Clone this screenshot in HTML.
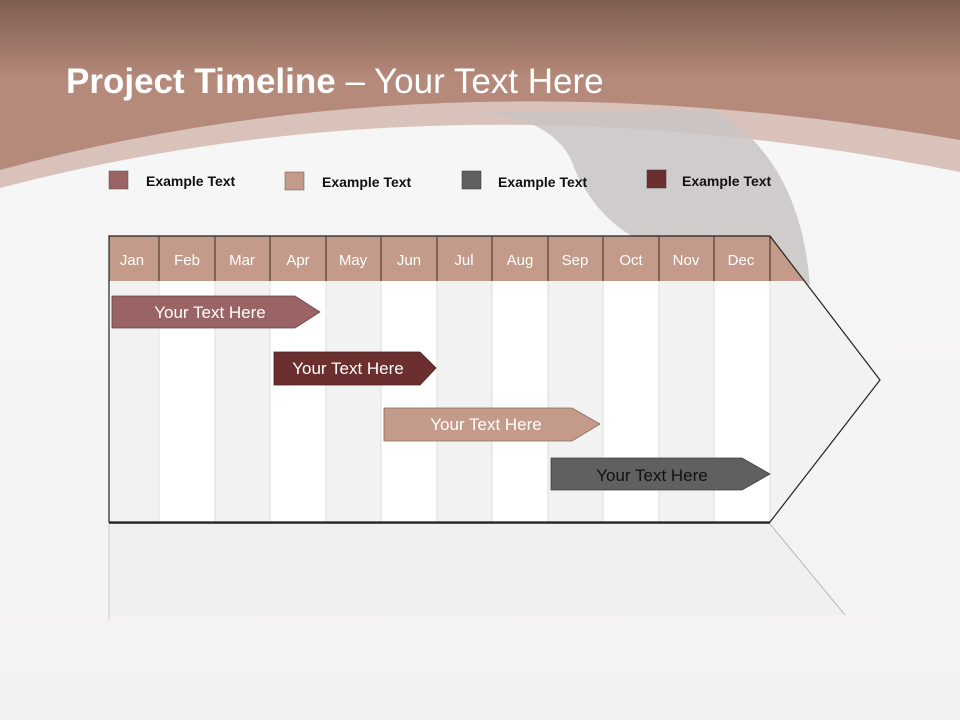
<!DOCTYPE html>
<html><head><meta charset="utf-8"><style>
body{margin:0;width:960px;height:720px;overflow:hidden;font-family:"Liberation Sans",sans-serif}
</style></head><body>
<svg width="960" height="720" viewBox="0 0 960 720" xmlns="http://www.w3.org/2000/svg">
<defs>
<linearGradient id="bg" x1="0" y1="0" x2="0" y2="1">
<stop offset="0" stop-color="#7e5e51"/><stop offset="0.28" stop-color="#b18676"/><stop offset="0.3" stop-color="#b58a7b"/>
</linearGradient>
<linearGradient id="wh" x1="0" y1="0" x2="0" y2="1">
<stop offset="0" stop-color="#f7f6f6"/><stop offset="1" stop-color="#f3f2f2"/>
</linearGradient>
</defs>
<rect width="960" height="720" fill="#f6f5f5"/>
<rect width="960" height="260" fill="url(#bg)"/>
<path d="M0,170 Q440,50 960,140 L960,260 L0,260 Z" fill="#dcc8c1" opacity="0.9"/>
<path d="M0,188 Q450,70 960,172 L960,720 L0,720 Z" fill="url(#wh)"/>
<path d="M480,112 Q560,120 575,170 Q600,225 650,245 L810,285 Q800,160 715,110 Z" fill="#c9c4c3" opacity="0.85"/>
<text x="66" y="93" font-family="Liberation Sans,sans-serif" font-size="35" fill="#fff"><tspan font-weight="bold">Project Timeline</tspan> – Your Text Here</text>
<g font-size="14" font-weight="bold" fill="#111">
<rect x="109" y="171" width="19" height="18" fill="#9a6464" stroke="#555" stroke-width="0.5"/><text x="146" y="186">Example Text</text>
<rect x="285" y="172" width="19" height="18" fill="#c49a8a" stroke="#555" stroke-width="0.5"/><text x="322" y="187">Example Text</text>
<rect x="462" y="171" width="19" height="18" fill="#606060" stroke="#333" stroke-width="0.5"/><text x="498" y="187">Example Text</text>
<rect x="647" y="170" width="19" height="18" fill="#6b2f2f" stroke="#333" stroke-width="0.5"/><text x="682" y="186">Example Text</text>
</g>
<path d="M109,524 L770,524 L845,615 L109,615 Z" fill="#efeeee" opacity="0.7"/>
<line x1="770" y1="524" x2="845" y2="615" stroke="#aaa" stroke-width="0.8"/>
<line x1="109" y1="524" x2="109" y2="620" stroke="#ccc" stroke-width="1"/>
<path d="M109,236 L770,236 L880,380 L770,522 L109,522 Z" fill="#f2f2f2"/>
<g fill="#fff">
<rect x="159" y="281" width="56" height="241"/><rect x="270" y="281" width="56" height="241"/><rect x="381" y="281" width="56" height="241"/><rect x="492" y="281" width="56" height="241"/><rect x="603" y="281" width="56" height="241"/><rect x="714" y="281" width="56" height="241"/>
</g>
<g stroke="#ddd" stroke-width="1">
<line x1="159" y1="281" x2="159" y2="522"/><line x1="215" y1="281" x2="215" y2="522"/><line x1="270" y1="281" x2="270" y2="522"/><line x1="326" y1="281" x2="326" y2="522"/><line x1="381" y1="281" x2="381" y2="522"/><line x1="437" y1="281" x2="437" y2="522"/><line x1="492" y1="281" x2="492" y2="522"/><line x1="548" y1="281" x2="548" y2="522"/><line x1="603" y1="281" x2="603" y2="522"/><line x1="659" y1="281" x2="659" y2="522"/><line x1="714" y1="281" x2="714" y2="522"/><line x1="770" y1="281" x2="770" y2="522"/>
</g>
<path d="M109,236 L770,236 L805,281 L109,281 Z" fill="#c49a8a"/>
<g stroke="#3a2a2a" stroke-width="1">
<line x1="159" y1="236" x2="159" y2="281"/><line x1="215" y1="236" x2="215" y2="281"/><line x1="270" y1="236" x2="270" y2="281"/><line x1="326" y1="236" x2="326" y2="281"/><line x1="381" y1="236" x2="381" y2="281"/><line x1="437" y1="236" x2="437" y2="281"/><line x1="492" y1="236" x2="492" y2="281"/><line x1="548" y1="236" x2="548" y2="281"/><line x1="603" y1="236" x2="603" y2="281"/><line x1="659" y1="236" x2="659" y2="281"/><line x1="714" y1="236" x2="714" y2="281"/><line x1="770" y1="236" x2="770" y2="281"/>
</g>
<path d="M109,236 L770,236 L880,380 L770,522 L109,522 Z" fill="none" stroke="#222" stroke-width="1.2"/>
<line x1="109" y1="523" x2="770" y2="523" stroke="#222" stroke-width="1.5"/>
<g font-size="15" fill="#fff" text-anchor="middle">
<text x="132" y="265">Jan</text><text x="187" y="265">Feb</text><text x="242" y="265">Mar</text><text x="298" y="265">Apr</text><text x="353" y="265">May</text><text x="409" y="265">Jun</text><text x="464" y="265">Jul</text><text x="520" y="265">Aug</text><text x="575" y="265">Sep</text><text x="631" y="265">Oct</text><text x="686" y="265">Nov</text><text x="741" y="265">Dec</text>
</g>
<g font-size="17" text-anchor="middle">
<path d="M112,296 L295,296 L320,312 L295,328 L112,328 Z" fill="#9a6464" stroke="#6a4444" stroke-width="0.8"/>
<text x="210" y="318" fill="#fff">Your  Text Here</text>
<path d="M274,352 L420,352 L436,368 L420,385 L274,385 Z" fill="#6b2f2f" stroke="#4a2020" stroke-width="0.8"/>
<text x="348" y="374" fill="#fff">Your  Text Here</text>
<path d="M384,408 L572,408 L600,424 L572,441 L384,441 Z" fill="#c49a8a" stroke="#8a6a5e" stroke-width="0.8"/>
<text x="486" y="430" fill="#fff">Your  Text Here</text>
<path d="M551,458 L742,458 L770,474 L742,490 L551,490 Z" fill="#606060" stroke="#404040" stroke-width="0.8"/>
<text x="652" y="481" fill="#111">Your  Text Here</text>
</g>
</svg>
</body></html>
